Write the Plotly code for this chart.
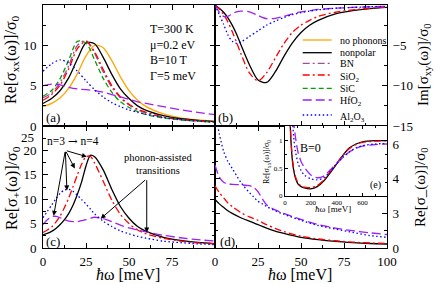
import plotly.graph_objects as go

FONT = "Liberation Serif, Times New Roman, serif"

# ---------------- data ----------------
# panel (a): Re[sigma_xx]/sigma0 vs hbar*omega [meV]
x_a = [0, 5, 10, 15, 20, 25, 30, 35, 40, 45, 50, 55, 60, 70, 80, 90, 100]
a_nophonons = [2.4, 2.8, 3.5, 4.7, 6.5, 8.7, 10.0, 9.7, 8.1, 6.1, 4.4, 3.2, 2.4, 1.5, 1.0, 0.75, 0.6]
a_nonpolar = [2.8, 3.4, 4.4, 6.0, 8.3, 10.3, 10.2, 8.5, 6.4, 4.6, 3.4, 2.5, 1.95, 1.3, 0.9, 0.7, 0.55]
a_BN = [3.5, 4.1, 5.4, 7.5, 10.0, 10.6, 9.0, 6.7, 4.8, 3.5, 2.6, 2.0, 1.6, 1.1, 0.8, 0.6, 0.5]
a_SiO2 = [3.2, 3.9, 5.1, 7.1, 9.6, 10.5, 9.2, 7.0, 5.0, 3.6, 2.7, 2.1, 1.7, 1.1, 0.8, 0.65, 0.5]
a_SiC = [3.7, 4.4, 5.9, 8.2, 10.5, 10.3, 8.2, 5.9, 4.2, 3.0, 2.3, 1.8, 1.4, 1.0, 0.75, 0.6, 0.5]
a_HfO2 = [5.0, 5.2, 5.1, 4.8, 4.6, 4.5, 4.4, 4.2, 3.9, 3.6, 3.3, 3.0, 2.8, 2.4, 2.0, 1.7, 1.4]
a_Al2O3 = [6.8, 7.7, 8.2, 7.8, 6.8, 5.6, 4.5, 3.6, 2.9, 2.4, 2.0, 1.7, 1.45, 1.05, 0.8, 0.6, 0.5]

# panel (b): Im[sigma_xy]/sigma0
x_b = [0, 2.5, 5, 7.5, 10, 12.5, 15, 20, 25, 30, 35, 40, 45, 50, 55, 60, 70, 80, 90, 100]
b_nonpolar = [0, -0.4, -0.9, -1.6, -2.5, -3.6, -4.9, -7.4, -9.3, -9.6, -8.3, -6.4, -4.7, -3.4, -2.5, -1.9, -1.1, -0.7, -0.45, -0.3]
b_SiO2 = [0, -0.5, -1.2, -2.1, -3.3, -4.6, -6.0, -8.4, -9.4, -8.4, -6.6, -4.8, -3.4, -2.5, -1.9, -1.4, -0.9, -0.6, -0.4, -0.28]
b_HfO2 = [0, -0.9, -1.4, -1.4, -1.1, -0.85, -0.75, -0.85, -1.3, -1.7, -1.65, -1.4, -1.1, -0.85, -0.7, -0.55, -0.4, -0.3, -0.22, -0.18]
b_Al2O3 = [0, -1.2, -2.4, -3.7, -4.5, -4.75, -4.6, -3.9, -3.2, -2.5, -2.0, -1.55, -1.2, -0.95, -0.75, -0.6, -0.4, -0.3, -0.22, -0.17]

# panel (c): Re[sigma_+]/sigma0
x_c = [0, 2.5, 5, 7.5, 10, 12.5, 15, 17.5, 20, 22.5, 25, 27.5, 30, 35, 40, 45, 50, 55, 60, 70, 80, 90, 100]
c_nonpolar = [2.7, 3.0, 3.4, 4.0, 4.8, 5.8, 7.1, 8.8, 11.0, 13.6, 16.8, 19.0, 18.7, 16.0, 12.0, 8.5, 6.1, 4.4, 3.4, 2.2, 1.55, 1.15, 0.9]
c_SiO2 = [3.2, 3.7, 4.3, 5.3, 6.6, 8.3, 10.3, 12.6, 15.0, 17.2, 18.7, 18.8, 17.4, 13.7, 9.8, 6.9, 5.0, 3.7, 2.9, 2.0, 1.4, 1.05, 0.85]
c_HfO2 = [4.8, 5.8, 6.4, 6.5, 6.2, 5.8, 5.5, 5.4, 5.4, 5.6, 5.8, 6.1, 6.3, 6.0, 5.4, 4.7, 4.1, 3.7, 3.3, 2.6, 2.1, 1.7, 1.45]
c_Al2O3 = [6.2, 7.5, 8.8, 10.1, 11.2, 11.9, 12.0, 11.6, 10.8, 9.9, 9.0, 8.0, 7.0, 5.5, 4.4, 3.5, 2.9, 2.4, 2.0, 1.4, 1.1, 0.85, 0.7]

# panel (d): Re[sigma_-]/sigma0
x_d = [0, 2.5, 5, 7.5, 10, 15, 20, 22.5, 25, 27.5, 30, 35, 40, 50, 60, 70, 80, 90, 100]
d_nonpolar = [2.8, 2.55, 2.35, 2.15, 2.0, 1.75, 1.55, 1.45, 1.35, 1.25, 1.15, 0.98, 0.85, 0.62, 0.48, 0.38, 0.31, 0.26, 0.23]
d_SiO2 = [3.6, 3.2, 2.9, 2.6, 2.4, 2.05, 1.8, 1.7, 1.6, 1.47, 1.35, 1.13, 0.95, 0.68, 0.52, 0.42, 0.34, 0.29, 0.26]
d_HfO2 = [4.8, 4.1, 3.8, 3.7, 3.68, 3.65, 3.6, 3.5, 3.25, 2.85, 2.5, 2.2, 2.0, 1.65, 1.35, 1.15, 1.0, 0.88, 0.78]
d_Al2O3 = [8.0, 6.6, 5.6, 5.0, 4.6, 3.8, 3.2, 2.95, 2.7, 2.55, 2.4, 2.15, 1.95, 1.6, 1.3, 1.1, 0.9, 0.72, 0.62]

# inset (e): Re[sigma_xx]/sigma0 at B=0
x_e = [30, 40, 50, 60, 70, 80, 100, 125, 150, 200, 250, 300, 350, 400, 450, 500, 550, 600, 700, 790]
e_nonpolar = [2.0, 1.3, 0.85, 0.58, 0.43, 0.33, 0.22, 0.17, 0.145, 0.13, 0.17, 0.27, 0.42, 0.58, 0.74, 0.87, 0.94, 0.98, 1.0, 1.0]
e_SiO2 = [2.0, 1.35, 0.9, 0.62, 0.46, 0.36, 0.24, 0.18, 0.16, 0.15, 0.19, 0.29, 0.44, 0.59, 0.74, 0.86, 0.93, 0.97, 0.99, 1.0]
e_HfO2 = [3.5, 2.8, 2.1, 1.6, 1.27, 1.08, 0.8, 0.62, 0.52, 0.38, 0.33, 0.36, 0.47, 0.59, 0.7, 0.8, 0.86, 0.9, 0.93, 0.94]
e_Al2O3 = [3.0, 2.4, 1.8, 1.3, 1.0, 0.82, 0.6, 0.46, 0.38, 0.31, 0.29, 0.33, 0.44, 0.58, 0.7, 0.8, 0.87, 0.91, 0.94, 0.95]

legend_names = ["no phonons", "nonpolar", "BN", "SiO<sub>2</sub>", "SiC", "HfO<sub>2</sub>", "Al<sub>2</sub>O<sub>3</sub>"]
params_text = ["T=300 K", "μ=0.2 eV", "B=10 T", "Γ=5 meV"]

# ---------------- styles ----------------
STY = {
    "no phonons": dict(color="#FFA500", dash="solid"),
    "nonpolar": dict(color="#000000", dash="solid"),
    "BN": dict(color="#9E4F9A", dash="7px,3px,2px,3px"),
    "SiO2": dict(color="#FF0000", dash="7px,3px,2px,3px"),
    "SiC": dict(color="#00A000", dash="5px,3px"),
    "HfO2": dict(color="#A020F0", dash="9px,4px"),
    "Al2O3": dict(color="#0000FF", dash="1.5px,2.5px"),
}
LW = 1.3

fig = go.Figure()


def add(x, y, key, xa, ya):
    fig.add_trace(go.Scatter(
        x=x, y=y, mode="lines", xaxis=xa, yaxis=ya, showlegend=False,
        line=dict(color=STY[key]["color"], dash=STY[key]["dash"], width=LW,
                  shape="spline", smoothing=0.8),
        hoverinfo="skip"))


for key, ys in [("no phonons", a_nophonons), ("nonpolar", a_nonpolar), ("BN", a_BN),
                ("SiO2", a_SiO2), ("SiC", a_SiC), ("HfO2", a_HfO2), ("Al2O3", a_Al2O3)]:
    add(x_a, ys, key, "x", "y")
for key, ys in [("nonpolar", b_nonpolar), ("SiO2", b_SiO2), ("HfO2", b_HfO2), ("Al2O3", b_Al2O3)]:
    add(x_b, ys, key, "x2", "y2")
for key, ys in [("nonpolar", c_nonpolar), ("SiO2", c_SiO2), ("HfO2", c_HfO2), ("Al2O3", c_Al2O3)]:
    add(x_c, ys, key, "x3", "y3")
for key, ys in [("nonpolar", d_nonpolar), ("SiO2", d_SiO2), ("HfO2", d_HfO2), ("Al2O3", d_Al2O3)]:
    add(x_d, ys, key, "x4", "y4")
for key, ys in [("nonpolar", e_nonpolar), ("SiO2", e_SiO2), ("HfO2", e_HfO2), ("Al2O3", e_Al2O3)]:
    add(x_e, ys, key, "x5", "y5")

W, H = 436, 284
ML, MR, MT, MB = 43, 49, 5, 36
PW, PH = W - ML - MR, H - MT - MB
ROW = 0.502


def px(xp):
    return (xp - ML) / PW


def py(yp):
    return (H - MB - yp) / PH


tickfont = dict(family=FONT, size=13, color="black")


def axis(**kw):
    d = dict(showline=True, linecolor="black", linewidth=1, mirror="allticks",
             ticks="inside", ticklen=5, tickcolor="black", tickwidth=1, automargin=False,
             showgrid=False, zeroline=False, tickfont=tickfont, ticklabelstandoff=3)
    d.update(kw)
    return d


xminor = dict(ticks="inside", ticklen=3, dtick=12.5, tickcolor="black", tickwidth=1)

fig.update_layout(
    template="none",
    width=W, height=H, margin=dict(l=ML, r=MR, t=MT, b=MB, autoexpand=False),
    paper_bgcolor="white", plot_bgcolor="white",
    font=dict(family=FONT, color="black"),
    xaxis=axis(domain=[0, 0.5], anchor="y", range=[0, 100], tickvals=[0, 25, 50, 75, 100],
               showticklabels=False, minor=xminor),
    yaxis=axis(domain=[ROW, 1], anchor="x", range=[0, 15], tickvals=[0, 5, 10, 15],
               minor=dict(ticks="inside", ticklen=3, dtick=2.5, tickcolor="black")),
    xaxis2=axis(domain=[0.5, 1], anchor="y2", range=[0, 100], tickvals=[0, 25, 50, 75, 100],
                showticklabels=False, minor=xminor),
    yaxis2=axis(domain=[ROW, 1], anchor="x2", side="right", range=[-15, 0],
                tickvals=[0, -5, -10, -15], ticklabelstandoff=2,
                minor=dict(ticks="inside", ticklen=3, dtick=2.5, tickcolor="black")),
    xaxis3=axis(domain=[0, 0.5], anchor="y3", range=[0, 100], tickvals=[0, 25, 50, 75, 100],
                ticktext=["0", "25", "50", "75", ""], minor=xminor, ticklabelstandoff=1),
    yaxis3=axis(domain=[0, ROW], anchor="x3", range=[0, 25], tickvals=[0, 5, 10, 15, 20, 25],
                ticktext=["0", "5", "10", "15", "20", ""],
                minor=dict(ticks="inside", ticklen=3, dtick=2.5, tickcolor="black")),
    xaxis4=axis(domain=[0.5, 1], anchor="y4", range=[0, 100], tickvals=[0, 25, 50, 75, 100],
                minor=xminor, ticklabelstandoff=1),
    yaxis4=axis(domain=[0, ROW], anchor="x4", side="right", range=[0, 7.05],
                tickvals=[0, 2, 4, 6], ticktext=["0", "3", "4", "6"], ticklabelstandoff=2,
                minor=dict(ticks="inside", ticklen=3, dtick=1, tickcolor="black")),
    xaxis5=axis(domain=[px(285), 1], anchor="y5", range=[0, 790], tickvals=[0, 200, 400, 600],
                ticklen=3, tickfont=dict(family=FONT, size=7, color="black"), ticklabelstandoff=0,
                minor=dict(ticks="inside", ticklen=2, dtick=100, tickcolor="black")),
    yaxis5=axis(domain=[py(196), ROW], anchor="x5", range=[0, 1.265], tickvals=[0, 0.5, 1],
                ticklen=3, tickfont=dict(family=FONT, size=7, color="black"), ticklabelstandoff=0,
                minor=dict(ticks="inside", ticklen=2, dtick=0.25, tickcolor="black")),
)

ann = []


def txt(x, y, s, size=13, xanchor="center", yanchor="middle", angle=0, xref="paper", yref="paper"):
    ann.append(dict(x=x, y=y, xref=xref, yref=yref, text=s, showarrow=False,
                    xanchor=xanchor, yanchor=yanchor, textangle=angle,
                    font=dict(family=FONT, size=size, color="black")))


# axis titles
txt(px(12), py(60), "Re[σ<sub>xx</sub>(ω)]/σ<sub>0</sub>", 16, angle=-90)
txt(px(12), py(188), "Re[σ<sub>+</sub>(ω)]/σ<sub>0</sub>", 16, angle=-90)
txt(px(424), py(65), "Im[σ<sub>xy</sub>(ω)]/σ<sub>0</sub>", 15, angle=-90)
txt(px(421), py(187), "Re[σ_(ω)]/σ<sub>0</sub>", 15, angle=-90)
txt(px(128), py(274), "<i>ħ</i>ω [meV]", 16)
txt(px(300), py(274), "<i>ħ</i>ω [meV]", 16)
# extra tick label at the top of panel (c)
txt(px(36), py(137), "25", 13, xanchor="right")
# panel labels
txt(px(53), py(117), "(a)", 13)
txt(px(225), py(117), "(b)", 13)
txt(px(53), py(241), "(c)", 13)
txt(px(228), py(241), "(d)", 13)
txt(px(375), py(185), "(e)", 10)
txt(px(310), py(148), "B=0", 12)
# inset titles
txt(px(267), py(162), "Re[σ<sub>xx</sub>(ω)]/σ<sub>0</sub>", 8, angle=-90)
txt(px(333), py(209), "<i>ħ</i>ω [meV]", 9)
# parameters
for i, s in enumerate(params_text):
    txt(px(148), py(29 + i * 15.7), s, 12, xanchor="left")
# panel (c) annotations
txt(1.2, 22.0, "n=3 <span style='font-family:DejaVu Serif;color:black'>→</span> n=4", 11.5,
    xanchor="left", xref="x3", yref="y3")
txt(67, 18.5, "phonon-assisted", 10.5, xref="x3", yref="y3")
txt(67, 15.8, "transitions", 10.5, xref="x3", yref="y3")

for (tx, ty) in [(6.2, 6.6), (13.9, 11.8), (18.5, 16.3), (25.5, 18.7)]:
    ann.append(dict(x=tx, y=ty, ax=13.0, ay=20.0, xref="x3", yref="y3", axref="x3", ayref="y3",
                    text="", showarrow=True, arrowhead=2, arrowsize=1, arrowwidth=1, arrowcolor="black"))
for (tx, ty) in [(33.5, 6.0), (60.3, 3.2)]:
    ann.append(dict(x=tx, y=ty, ax=60.3, ay=14.2, xref="x3", yref="y3", axref="x3", ayref="y3",
                    text="", showarrow=True, arrowhead=2, arrowsize=1, arrowwidth=1, arrowcolor="black"))

# legend (panel b)
leg_keys = ["no phonons", "nonpolar", "BN", "SiO2", "SiC", "HfO2", "Al2O3"]
leg_y = [40, 52.7, 63.3, 75, 88.3, 100, 115]
shapes = []
for key, name, yy in zip(leg_keys, legend_names, leg_y):
    shapes.append(dict(type="line", xref="paper", yref="paper", x0=px(302.7), x1=px(331.7),
                       y0=py(yy), y1=py(yy),
                       line=dict(color=STY[key]["color"], dash=STY[key]["dash"], width=LW)))
    txt(px(337.7), py(yy + (2 if "sub" in name else 0)), name, 10, xanchor="left")

fig.update_layout(annotations=ann, shapes=shapes)
fig.write_html("out.html", config={"displayModeBar": False},
               post_script="document.body.style.margin='0';document.body.style.overflow='hidden';")
